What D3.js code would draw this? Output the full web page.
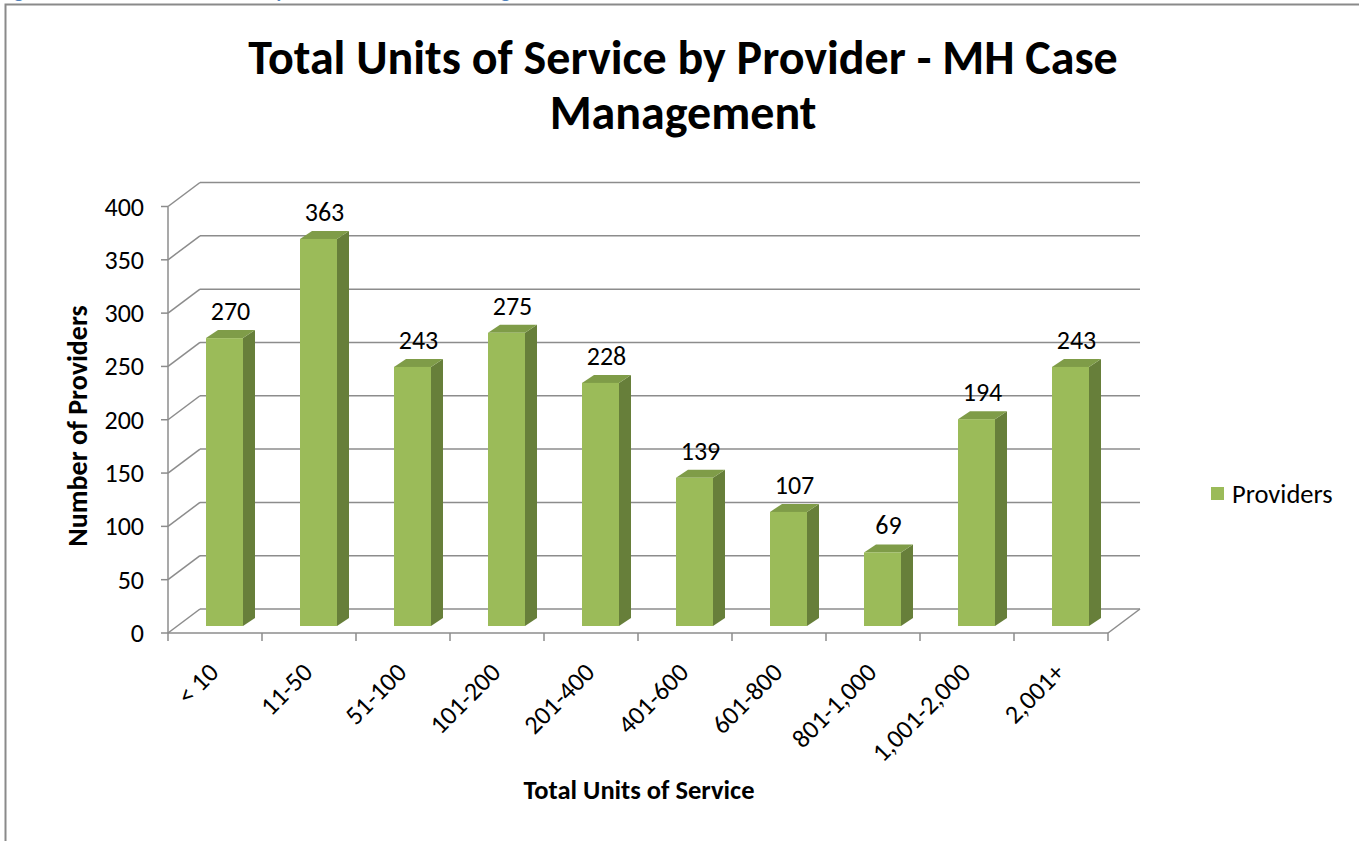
<!DOCTYPE html>
<html>
<head>
<meta charset="utf-8">
<script src="https://cdn.jsdelivr.net/npm/d3@7"></script>
<style>
  body { margin: 0; background: #fff; }
  svg { display: block; font-family: Carlito, Calibri, Lato, "Open Sans", sans-serif; }
</style>
</head>
<body>
<svg width="1359" height="841"></svg>
<script>
"use strict";

// Data.

var categories = ["< 10", "11-50", "51-100", "101-200", "201-400", "401-600", "601-800", "801-1,000", "1,001-2,000", "2,001+"];
var providers = [270, 363, 243, 275, 228, 139, 107, 69, 194, 243];
var yTicks = [0, 50, 100, 150, 200, 250, 300, 350, 400];

// SVG.

var svg = d3.select("svg");

// Constants and parameters.

var AxisLeft = 168;
var AxisRight = 1108;
var FloorFront = 633;
var Top = 206.5;

var DepthX = 32;    // floor/wall depth offset
var DepthY = -24;

var BarShiftX = 9.5;  // bar front face offset into the floor
var BarShiftY = -7;
var BarWidth = 37;
var BarDepthX = 12;
var BarDepthY = -8;

var LabelSize = 26;

var GridColor = "#8c8c8c";
var FrontColor = "#9bbb59";
var SideColor = "#677f3a";
var TopColor = "#7f9c48";

// Scales.

var x = d3.scaleBand()
    .domain(categories)
    .range([AxisLeft, AxisRight]);

var y = d3.scaleLinear()
    .domain([0, 400])
    .range([FloorFront, Top]);

// Page frame and cut-off caption.

svg.append("text")
    .attr("x", 0)
    .attr("y", -2)
    .attr("fill", "#4f81bd")
    .attr("font-weight", "bold")
    .attr("font-size", 20)
    .text("Figure 12: Total Units of Service by Provider - MH Case Management");

svg.append("rect")
    .attr("x", 5.5)
    .attr("y", 4.5)
    .attr("width", 1400)
    .attr("height", 900)
    .attr("fill", "none")
    .attr("stroke", "#8a8a8a")
    .attr("stroke-width", 2);

// Title.

svg.append("text")
    .attr("x", 683)
    .attr("y", 74)
    .attr("text-anchor", "middle")
    .attr("font-weight", "bold")
    .attr("font-size", 48)
    .text("Total Units of Service by Provider - MH Case");

svg.append("text")
    .attr("x", 683)
    .attr("y", 129)
    .attr("text-anchor", "middle")
    .attr("font-weight", "bold")
    .attr("font-size", 48)
    .text("Management");

// Walls and gridlines.

var grid = svg.append("g")
    .attr("stroke", GridColor)
    .attr("stroke-width", 1.5)
    .attr("fill", "none");

// Back wall lines.
grid.selectAll("line.back")
    .data(yTicks)
    .enter()
    .append("line")
        .attr("class", "back")
        .attr("x1", AxisLeft + DepthX)
        .attr("x2", AxisRight + DepthX)
        .attr("y1", function(d){ return y(d) + DepthY; })
        .attr("y2", function(d){ return y(d) + DepthY; });

// Left wall diagonals.
grid.selectAll("line.side")
    .data(yTicks)
    .enter()
    .append("line")
        .attr("class", "side")
        .attr("x1", AxisLeft)
        .attr("x2", AxisLeft + DepthX)
        .attr("y1", function(d){ return y(d); })
        .attr("y2", function(d){ return y(d) + DepthY; });

// Floor front edge and right diagonal.
grid.append("line")
    .attr("x1", AxisLeft).attr("x2", AxisRight)
    .attr("y1", y(0)).attr("y2", y(0));
grid.append("line")
    .attr("x1", AxisRight).attr("x2", AxisRight + DepthX)
    .attr("y1", y(0)).attr("y2", y(0) + DepthY);

// Vertical axis line.
grid.append("line")
    .attr("x1", AxisLeft).attr("x2", AxisLeft)
    .attr("y1", y(400)).attr("y2", y(0));

// Y ticks.
grid.selectAll("line.ytick")
    .data(yTicks)
    .enter()
    .append("line")
        .attr("class", "ytick")
        .attr("x1", AxisLeft - 7)
        .attr("x2", AxisLeft)
        .attr("y1", function(d){ return y(d); })
        .attr("y2", function(d){ return y(d); });

// X ticks (category boundaries).
var xBounds = categories.map(function(c){ return x(c); }).concat([AxisRight]);
grid.selectAll("line.xtick")
    .data(xBounds)
    .enter()
    .append("line")
        .attr("class", "xtick")
        .attr("x1", function(d){ return d; })
        .attr("x2", function(d){ return d; })
        .attr("y1", y(0))
        .attr("y2", y(0) + 8);

// Y tick labels.
svg.selectAll("text.ylab")
    .data(yTicks)
    .enter()
    .append("text")
        .attr("class", "ylab")
        .attr("x", 144)
        .attr("y", function(d){ return y(d) + 9; })
        .attr("text-anchor", "end")
        .attr("font-size", LabelSize)
        .text(function(d){ return d; });

// X tick labels, rotated.
svg.selectAll("text.xlab")
    .data(categories)
    .enter()
    .append("text")
        .attr("class", "xlab")
        .attr("text-anchor", "end")
        .attr("font-size", LabelSize)
        .attr("transform", function(d){
            var cx = x(d) + x.bandwidth()/2 + 5;
            return "translate(" + cx + "," + (y(0) + 41) + ") rotate(-45)";
        })
        .text(function(d){ return d; });

// Bars.

var bars = svg.selectAll("g.bar")
    .data(categories.map(function(c, i){ return {cat: c, value: providers[i]}; }))
    .enter()
    .append("g")
        .attr("class", "bar");

var barLeft = function(d){ return x(d.cat) + x.bandwidth()/2 + BarShiftX - BarWidth/2; };
var barBase = y(0) + BarShiftY;
var barTop = function(d){ return y(d.value) + BarShiftY; };

bars.append("path")
    .attr("fill", SideColor)
    .attr("d", function(d){
        var r = barLeft(d) + BarWidth;
        return "M" + r + "," + barTop(d) +
            "L" + (r + BarDepthX) + "," + (barTop(d) + BarDepthY) +
            "L" + (r + BarDepthX) + "," + (barBase + BarDepthY) +
            "L" + r + "," + barBase + "Z";
    });

bars.append("path")
    .attr("fill", TopColor)
    .attr("d", function(d){
        var l = barLeft(d);
        var t = barTop(d);
        return "M" + l + "," + t +
            "L" + (l + BarDepthX) + "," + (t + BarDepthY) +
            "L" + (l + BarWidth + BarDepthX) + "," + (t + BarDepthY) +
            "L" + (l + BarWidth) + "," + t + "Z";
    });

bars.append("rect")
    .attr("fill", FrontColor)
    .attr("x", barLeft)
    .attr("y", barTop)
    .attr("width", BarWidth)
    .attr("height", function(d){ return barBase - barTop(d); });

// Data labels.
bars.append("text")
    .attr("x", function(d){ return barLeft(d) + BarWidth/2 + BarDepthX/2; })
    .attr("y", function(d){ return barTop(d) + BarDepthY - 10; })
    .attr("text-anchor", "middle")
    .attr("font-size", LabelSize)
    .text(function(d){ return d.value; });

// Axis titles.

svg.append("text")
    .attr("transform", "translate(87,426) rotate(-90)")
    .attr("text-anchor", "middle")
    .attr("font-weight", "bold")
    .attr("font-size", 28)
    .text("Number of Providers");

svg.append("text")
    .attr("x", 639)
    .attr("y", 799)
    .attr("text-anchor", "middle")
    .attr("font-weight", "bold")
    .attr("font-size", 26.5)
    .text("Total Units of Service");

// Legend.

svg.append("rect")
    .attr("x", 1211)
    .attr("y", 487)
    .attr("width", 13)
    .attr("height", 13)
    .attr("fill", FrontColor);

svg.append("text")
    .attr("x", 1232)
    .attr("y", 503)
    .attr("font-size", 26.5)
    .text("Providers");
</script>
</body>
</html>
